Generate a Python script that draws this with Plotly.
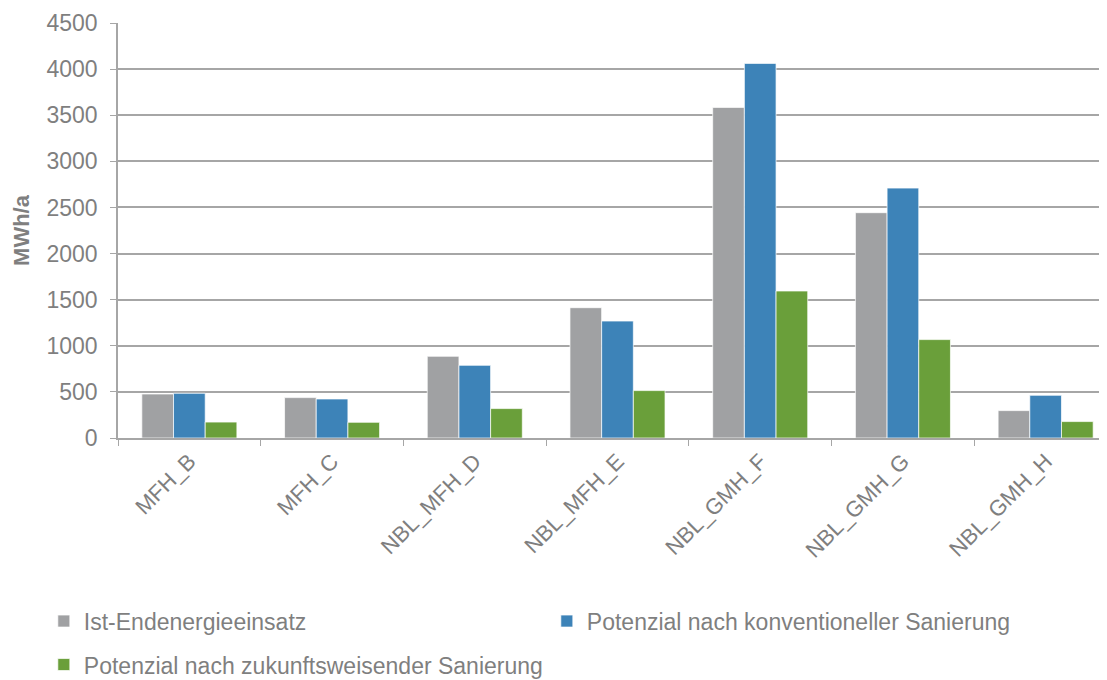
import plotly.graph_objects as go

categories = ["MFH_B", "MFH_C", "NBL_MFH_D", "NBL_MFH_E", "NBL_GMH_F", "NBL_GMH_G", "NBL_GMH_H"]
ist = [477, 438, 886, 1413, 3585, 2443, 297]
konventionell = [485, 423, 788, 1268, 4062, 2710, 463]
zukunft = [173, 170, 319, 514, 1594, 1067, 178]
series_names = ["Ist-Endenergieeinsatz", "Potenzial nach konventioneller Sanierung",
                "Potenzial nach zukunftsweisender Sanierung"]
colors = ["#A0A1A3", "#3D83B8", "#6A9F3A"]
y_ticks = [0, 500, 1000, 1500, 2000, 2500, 3000, 3500, 4000, 4500]

FONT = "Liberation Sans, Arial, sans-serif"
GRAY = "#7F7F7F"

fig = go.Figure()
for i, (name, vals, col) in enumerate(zip(series_names, [ist, konventionell, zukunft], colors)):
    fig.add_trace(go.Bar(
        x=categories, y=vals, name=name,
        marker=dict(color=col, line=dict(color="rgba(255,255,255,0.7)", width=1)),
        legend="legend" if i < 2 else "legend2",
    ))

fig.update_layout(
    width=1107, height=680,
    margin=dict(l=110, r=8, t=15, b=250, autoexpand=False),
    plot_bgcolor="white", paper_bgcolor="white",
    barmode="group", bargap=0.334, bargroupgap=0,
    font=dict(family=FONT, color=GRAY, size=23),
    legend=dict(orientation="h", x=-0.075, xanchor="left", y=-0.4412, yanchor="middle",
                entrywidth=458, entrywidthmode="pixels",
                font=dict(family=FONT, size=23, color=GRAY), bgcolor="rgba(0,0,0,0)"),
    legend2=dict(orientation="h", x=-0.075, xanchor="left", y=-0.546, yanchor="middle",
                 font=dict(family=FONT, size=23, color=GRAY), bgcolor="rgba(0,0,0,0)"),
    showlegend=True,
)
fig.update_xaxes(
    range=[-0.5, 6.43], automargin=False,
    tickangle=-45, tickson="boundaries", ticks="outside", ticklen=6, tickcolor="#A6A6A6",
    showline=True, linecolor="#A6A6A6", linewidth=1.5,
    tickfont=dict(family=FONT, size=22, color=GRAY),
    showgrid=False,
)
fig.update_yaxes(
    range=[0, 4500], tickvals=y_ticks, automargin=False,
    ticks="outside", ticklen=6, tickcolor="#A6A6A6",
    showline=True, linecolor="#A6A6A6", linewidth=1.5,
    showgrid=True, gridcolor="#A6A6A6", gridwidth=1.5,
    tickfont=dict(family=FONT, size=23, color=GRAY),
    ticklabelstandoff=8,
    zeroline=False,
    title=dict(text="<b>MWh/a</b>", font=dict(family=FONT, size=22, color=GRAY), standoff=11),
)

fig.write_html("out.html")
